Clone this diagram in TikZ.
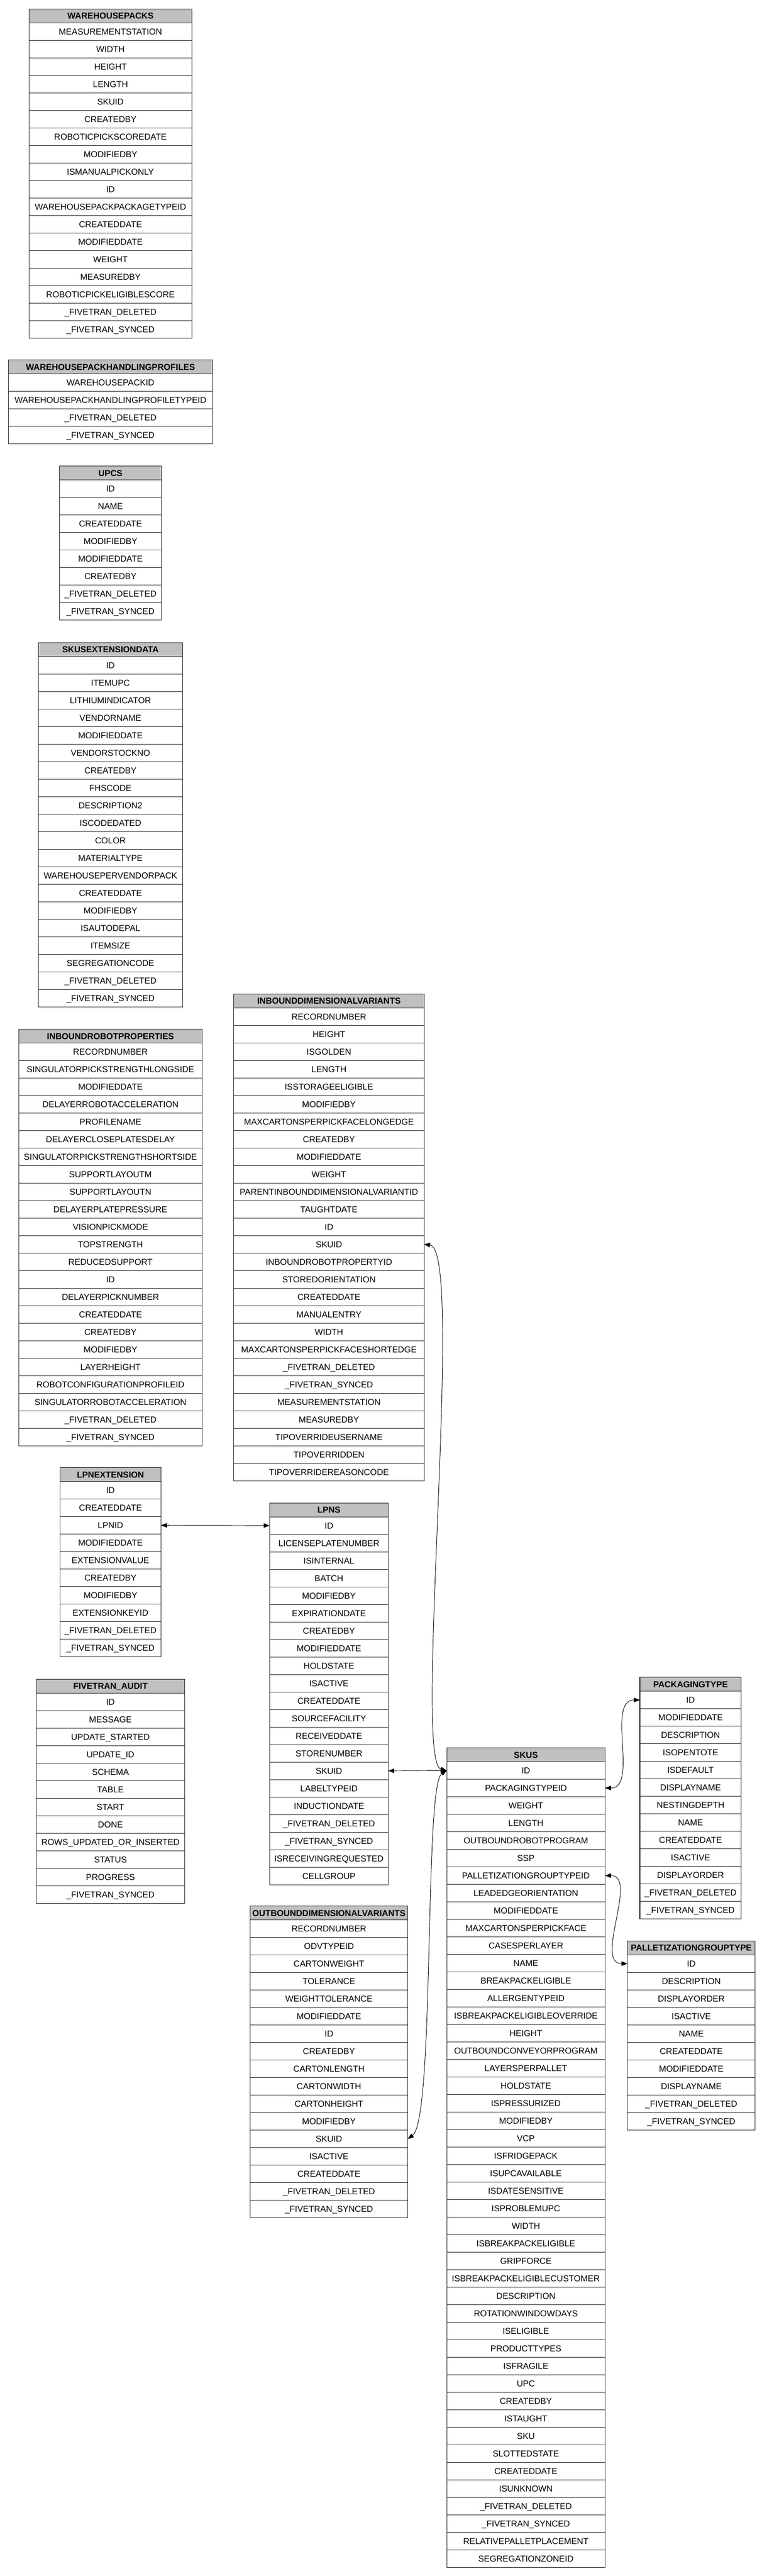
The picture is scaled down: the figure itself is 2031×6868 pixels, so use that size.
\documentclass[tikz,border=0pt]{standalone}
\usepackage{fontspec}
\setmainfont{Liberation Sans}
\usetikzlibrary{arrows.meta,positioning}
\definecolor{headgray}{HTML}{C0C0C0}
\definecolor{rulegray}{HTML}{222222}

\tikzset{
    field/.style={draw=rulegray, line width=1.4pt, inner sep=0pt, outer sep=0pt,
        minimum height=46.7pt, text height=16.5pt, text depth=0pt,
        font=\fontsize{23}{27}\selectfont},
    tablehead/.style={field, fill=headgray, minimum height=37pt, anchor=north,
        font=\fontsize{23}{27}\selectfont\bfseries},
    fk/.style={{Triangle[length=16pt,width=12pt]}-{Triangle[length=16pt,width=12pt]},
        line width=1.3pt, black}
}

\begin{document}
\begin{tikzpicture}[x=1pt, y=-1pt]
            \useasboundingbox (0,0) rectangle (2031,6868);

            \node[tablehead, minimum width=435pt] (wp0) at (294.5,23.5) {WAREHOUSEPACKS};
            \foreach \f [count=\i] in {MEASUREMENTSTATION, WIDTH, HEIGHT, LENGTH, SKUID, CREATEDBY,
                ROBOTICPICKSCOREDATE, MODIFIEDBY, ISMANUALPICKONLY, ID, WAREHOUSEPACKPACKAGETYPEID,
                CREATEDDATE, MODIFIEDDATE, WEIGHT, MEASUREDBY, ROBOTICPICKELIGIBLESCORE,
                \_FIVETRAN\_DELETED, \_FIVETRAN\_SYNCED}
                {\pgfmathtruncatemacro\j{\i-1}
                 \node[field, minimum width=435pt, below=0pt of wp\j] (wp\i) {\f};}

            \node[tablehead, minimum width=544pt] (whp0) at (294.5,960) {WAREHOUSEPACKHANDLINGPROFILES};
            \foreach \f [count=\i] in {WAREHOUSEPACKID, WAREHOUSEPACKHANDLINGPROFILETYPEID,
                \_FIVETRAN\_DELETED, \_FIVETRAN\_SYNCED}
                {\pgfmathtruncatemacro\j{\i-1}
                 \node[field, minimum width=544pt, below=0pt of whp\j] (whp\i) {\f};}

            \node[tablehead, minimum width=271pt] (upc0) at (294.5,1243) {UPCS};
            \foreach \f [count=\i] in {ID, NAME, CREATEDDATE, MODIFIEDBY, MODIFIEDDATE, CREATEDBY,
                \_FIVETRAN\_DELETED, \_FIVETRAN\_SYNCED}
                {\pgfmathtruncatemacro\j{\i-1}
                 \node[field, minimum width=271pt, below=0pt of upc\j] (upc\i) {\f};}

            \node[tablehead, minimum width=384pt] (sed0) at (294.5,1713) {SKUSEXTENSIONDATA};
            \foreach \f [count=\i] in {ID, ITEMUPC, LITHIUMINDICATOR, VENDORNAME, MODIFIEDDATE,
                VENDORSTOCKNO, CREATEDBY, FHSCODE, DESCRIPTION2, ISCODEDATED, COLOR, MATERIALTYPE,
                WAREHOUSEPERVENDORPACK, CREATEDDATE, MODIFIEDBY, ISAUTODEPAL, ITEMSIZE,
                SEGREGATIONCODE, \_FIVETRAN\_DELETED, \_FIVETRAN\_SYNCED}
                {\pgfmathtruncatemacro\j{\i-1}
                 \node[field, minimum width=384pt, below=0pt of sed\j] (sed\i) {\f};}

            \node[tablehead, minimum width=490pt] (irp0) at (294.5,2744) {INBOUNDROBOTPROPERTIES};
            \foreach \f [count=\i] in {RECORDNUMBER, SINGULATORPICKSTRENGTHLONGSIDE, MODIFIEDDATE,
                DELAYERROBOTACCELERATION, PROFILENAME, DELAYERCLOSEPLATESDELAY,
                SINGULATORPICKSTRENGTHSHORTSIDE, SUPPORTLAYOUTM, SUPPORTLAYOUTN, DELAYERPLATEPRESSURE,
                VISIONPICKMODE, TOPSTRENGTH, REDUCEDSUPPORT, ID, DELAYERPICKNUMBER, CREATEDDATE,
                CREATEDBY, MODIFIEDBY, LAYERHEIGHT, ROBOTCONFIGURATIONPROFILEID,
                SINGULATORROBOTACCELERATION, \_FIVETRAN\_DELETED, \_FIVETRAN\_SYNCED}
                {\pgfmathtruncatemacro\j{\i-1}
                 \node[field, minimum width=490pt, below=0pt of irp\j] (irp\i) {\f};}

            \node[tablehead, minimum width=269pt] (lpnx0) at (294.5,3913) {LPNEXTENSION};
            \foreach \f [count=\i] in {ID, CREATEDDATE, LPNID, MODIFIEDDATE, EXTENSIONVALUE,
                CREATEDBY, MODIFIEDBY, EXTENSIONKEYID, \_FIVETRAN\_DELETED, \_FIVETRAN\_SYNCED}
                {\pgfmathtruncatemacro\j{\i-1}
                 \node[field, minimum width=269pt, below=0pt of lpnx\j] (lpnx\i) {\f};}

            \node[tablehead, minimum width=395pt] (fa0) at (294.5,4477) {FIVETRAN\_AUDIT};
            \foreach \f [count=\i] in {ID, MESSAGE, UPDATE\_STARTED, UPDATE\_ID, SCHEMA, TABLE, START,
                DONE, ROWS\_UPDATED\_OR\_INSERTED, STATUS, PROGRESS, \_FIVETRAN\_SYNCED}
                {\pgfmathtruncatemacro\j{\i-1}
                 \node[field, minimum width=395pt, below=0pt of fa\j] (fa\i) {\f};}

            \node[tablehead, minimum width=507pt] (idv0) at (877,2650) {INBOUNDDIMENSIONALVARIANTS};
            \foreach \f [count=\i] in {RECORDNUMBER, HEIGHT, ISGOLDEN, LENGTH, ISSTORAGEELIGIBLE,
                MODIFIEDBY, MAXCARTONSPERPICKFACELONGEDGE, CREATEDBY, MODIFIEDDATE, WEIGHT,
                PARENTINBOUNDDIMENSIONALVARIANTID, TAUGHTDATE, ID, SKUID, INBOUNDROBOTPROPERTYID,
                STOREDORIENTATION, CREATEDDATE, MANUALENTRY, WIDTH, MAXCARTONSPERPICKFACESHORTEDGE,
                \_FIVETRAN\_DELETED, \_FIVETRAN\_SYNCED, MEASUREMENTSTATION, MEASUREDBY,
                TIPOVERRIDEUSERNAME, TIPOVERRIDDEN, TIPOVERRIDEREASONCODE}
                {\pgfmathtruncatemacro\j{\i-1}
                 \node[field, minimum width=507pt, below=0pt of idv\j] (idv\i) {\f};}

            \node[tablehead, minimum width=316pt] (lpns0) at (877,4007) {LPNS};
            \foreach \f [count=\i] in {ID, LICENSEPLATENUMBER, ISINTERNAL, BATCH, MODIFIEDBY,
                EXPIRATIONDATE, CREATEDBY, MODIFIEDDATE, HOLDSTATE, ISACTIVE, CREATEDDATE,
                SOURCEFACILITY, RECEIVEDDATE, STORENUMBER, SKUID, LABELTYPEID, INDUCTIONDATE,
                \_FIVETRAN\_DELETED, \_FIVETRAN\_SYNCED, ISRECEIVINGREQUESTED, CELLGROUP}
                {\pgfmathtruncatemacro\j{\i-1}
                 \node[field, minimum width=316pt, below=0pt of lpns\j] (lpns\i) {\f};}

            \node[tablehead, minimum width=420pt] (odv0) at (877,5082) {OUTBOUNDDIMENSIONALVARIANTS};
            \foreach \f [count=\i] in {RECORDNUMBER, ODVTYPEID, CARTONWEIGHT, TOLERANCE,
                WEIGHTTOLERANCE, MODIFIEDDATE, ID, CREATEDBY, CARTONLENGTH, CARTONWIDTH,
                CARTONHEIGHT, MODIFIEDBY, SKUID, ISACTIVE, CREATEDDATE, \_FIVETRAN\_DELETED,
                \_FIVETRAN\_SYNCED}
                {\pgfmathtruncatemacro\j{\i-1}
                 \node[field, minimum width=420pt, below=0pt of odv\j] (odv\i) {\f};}

            \node[tablehead, minimum width=422pt] (skus0) at (1402,4660) {SKUS};
            \foreach \f [count=\i] in {ID, PACKAGINGTYPEID, WEIGHT, LENGTH, OUTBOUNDROBOTPROGRAM, SSP,
                PALLETIZATIONGROUPTYPEID, LEADEDGEORIENTATION, MODIFIEDDATE, MAXCARTONSPERPICKFACE,
                CASESPERLAYER, NAME, BREAKPACKELIGIBLE, ALLERGENTYPEID, ISBREAKPACKELIGIBLEOVERRIDE,
                HEIGHT, OUTBOUNDCONVEYORPROGRAM, LAYERSPERPALLET, HOLDSTATE, ISPRESSURIZED,
                MODIFIEDBY, VCP, ISFRIDGEPACK, ISUPCAVAILABLE, ISDATESENSITIVE, ISPROBLEMUPC, WIDTH,
                ISBREAKPACKELIGIBLE, GRIPFORCE, ISBREAKPACKELIGIBLECUSTOMER, DESCRIPTION,
                ROTATIONWINDOWDAYS, ISELIGIBLE, PRODUCTTYPES, ISFRAGILE, UPC, CREATEDBY, ISTAUGHT,
                SKU, SLOTTEDSTATE, CREATEDDATE, ISUNKNOWN, \_FIVETRAN\_DELETED, \_FIVETRAN\_SYNCED,
                RELATIVEPALLETPLACEMENT, SEGREGATIONZONEID}
                {\pgfmathtruncatemacro\j{\i-1}
                 \node[field, minimum width=422pt, below=0pt of skus\j] (skus\i) {\f};}

            \node[tablehead, minimum width=270pt] (pkg0) at (1841,4472) {PACKAGINGTYPE};
            \foreach \f [count=\i] in {ID, MODIFIEDDATE, DESCRIPTION, ISOPENTOTE, ISDEFAULT,
                DISPLAYNAME, NESTINGDEPTH, NAME, CREATEDDATE, ISACTIVE, DISPLAYORDER,
                \_FIVETRAN\_DELETED, \_FIVETRAN\_SYNCED}
                {\pgfmathtruncatemacro\j{\i-1}
                 \node[field, minimum width=270pt, below=0pt of pkg\j] (pkg\i) {\f};}

            \node[tablehead, minimum width=340pt] (pgt0) at (1843,5175) {PALLETIZATIONGROUPTYPE};
            \foreach \f [count=\i] in {ID, DESCRIPTION, DISPLAYORDER, ISACTIVE, NAME, CREATEDDATE,
                MODIFIEDDATE, DISPLAYNAME, \_FIVETRAN\_DELETED, \_FIVETRAN\_SYNCED}
                {\pgfmathtruncatemacro\j{\i-1}
                 \node[field, minimum width=340pt, below=0pt of pgt\j] (pgt\i) {\f};}

            \draw[fk] (lpnx3.east) -- (lpns1.west);
            \draw[fk] (lpns15.east) -- (skus1.west);
            \draw[fk] (idv14.east) .. controls +(110,13) and +(-91,-21) .. (skus1.west);
            \draw[fk] (odv13.east) .. controls +(73,-53) and +(-61,39) .. (skus1.west);
            \draw[fk] (skus2.east) .. controls +(90,0) and +(-90,0) .. (pkg1.west);
            \draw[fk] (skus7.east) .. controls +(90,0) and +(-90,0) .. (pgt1.west);

        \end{tikzpicture}
\end{document}
